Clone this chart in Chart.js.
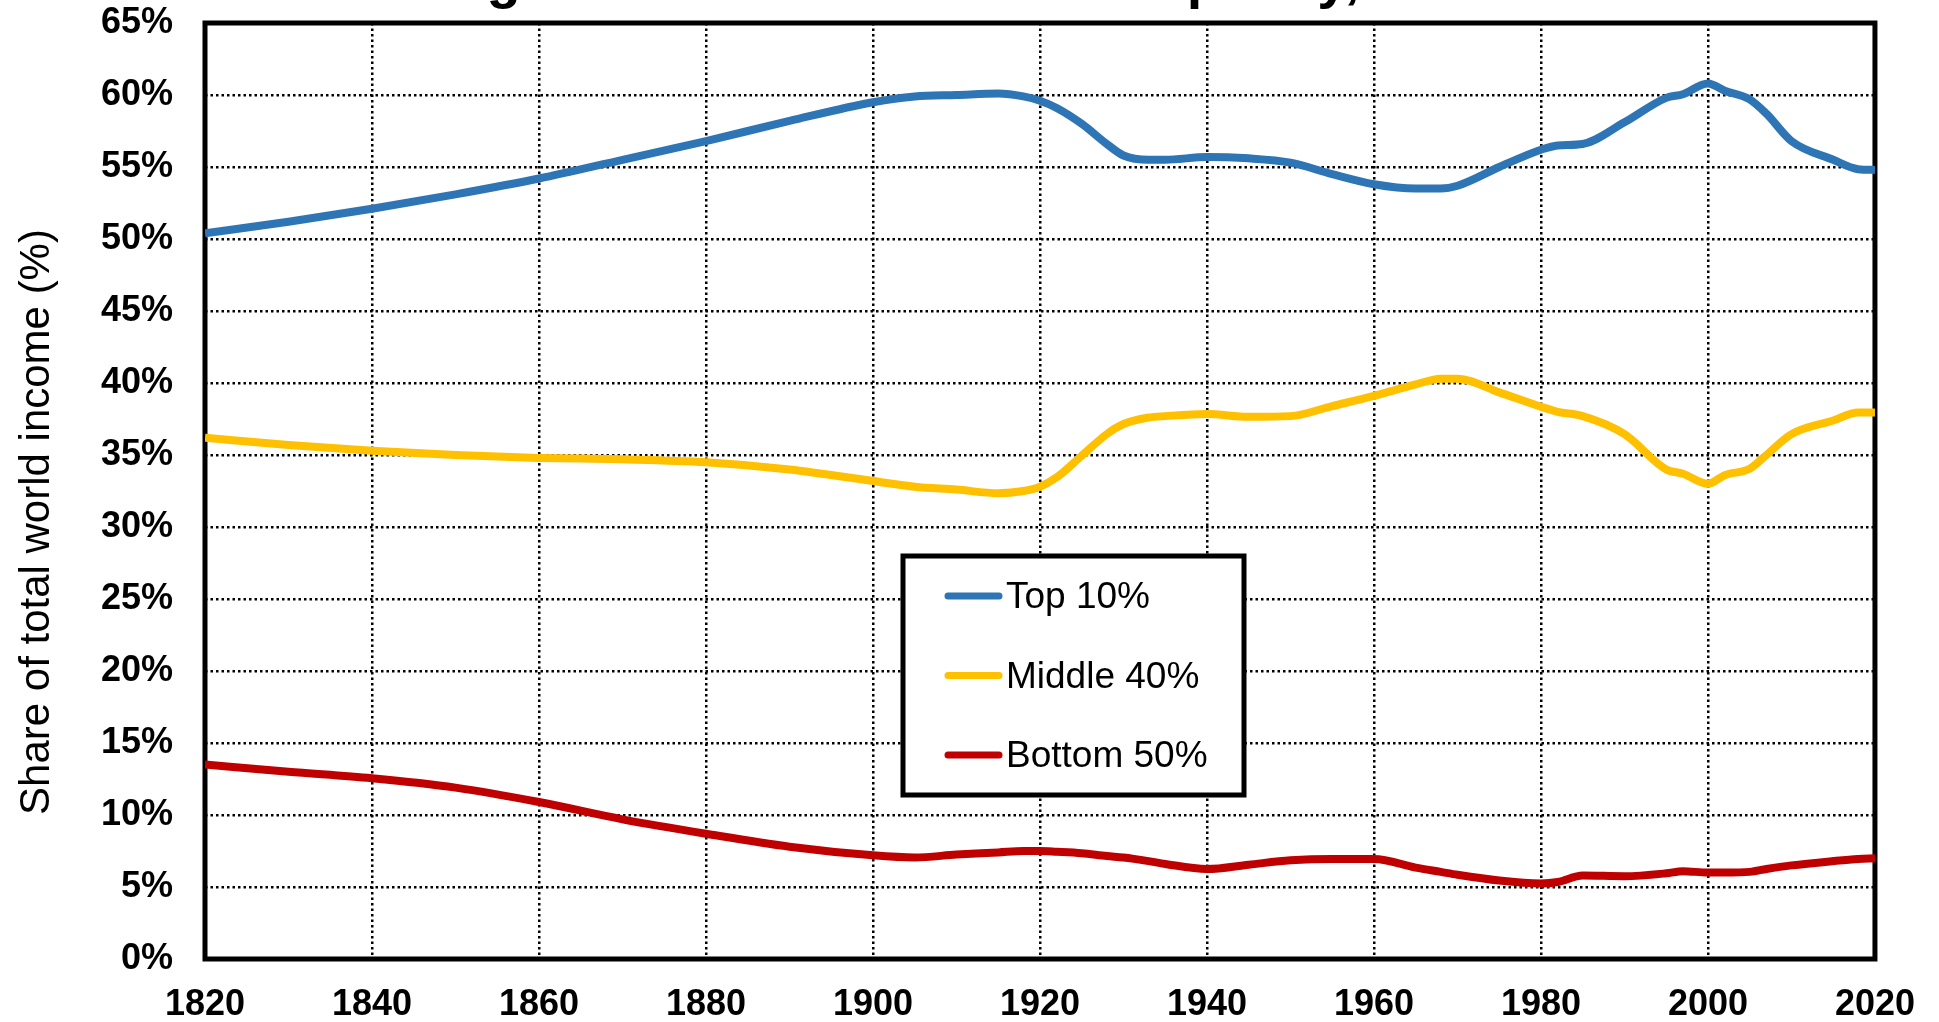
<!DOCTYPE html>
<html>
<head>
<meta charset="utf-8">
<script src="https://cdn.jsdelivr.net/npm/chart.js@4.4.1/dist/chart.umd.min.js"></script>
<style>
  html, body { margin: 0; padding: 0; background: #fff; overflow: hidden; }
  #chart { display: block; }
</style>
</head>
<body>
<canvas id="chart" width="1939" height="1022"></canvas>
<script>
const chartTitle = "Figure 1. Global income inequality, 1820-2020";
const yTitle = "Share of total world income (%)";
const seriesNames = ["Top 10%", "Middle 40%", "Bottom 50%"];

const years = [1820, 1830, 1840, 1850, 1860, 1870, 1880, 1890, 1900, 1905,
  1910, 1915, 1918, 1920, 1922, 1925, 1928, 1930, 1933, 1935,
  1940, 1945, 1950, 1955, 1960, 1965, 1968, 1970, 1975, 1980,
  1982, 1985, 1990, 1995, 1997, 2000, 2002, 2005, 2007, 2010,
  2015, 2018, 2020];

const top10 = [50.4, 51.2, 52.1, 53.1, 54.2, 55.5, 56.8, 58.2, 59.5, 59.9,
  60.0, 60.1, 59.9, 59.6, 59.1, 58.0, 56.6, 55.8, 55.5, 55.5,
  55.7, 55.6, 55.3, 54.5, 53.8, 53.5, 53.5, 53.7, 55.0, 56.2,
  56.5, 56.6, 58.1, 59.8, 60.05, 60.8, 60.3, 59.7, 58.7, 56.8,
  55.5, 54.85, 54.8];

const middle40 = [36.2, 35.7, 35.3, 35.0, 34.8, 34.7, 34.5, 34.0, 33.2, 32.8,
  32.6, 32.35, 32.5, 32.8, 33.45, 34.95, 36.45, 37.15, 37.6, 37.7,
  37.85, 37.65, 37.7, 38.4, 39.1, 39.9, 40.3, 40.3, 39.35, 38.35,
  38.0, 37.7, 36.45, 34.0, 33.7, 33.0, 33.6, 34.05, 35.0, 36.45,
  37.4, 37.95, 37.95];

const bottom50 = [13.5, 13.0, 12.55, 11.9, 10.9, 9.7, 8.7, 7.8, 7.2, 7.05,
  7.25, 7.4, 7.5, 7.5, 7.45, 7.35, 7.15, 7.05, 6.8, 6.6,
  6.25, 6.55, 6.85, 6.95, 6.95, 6.35, 6.05, 5.85, 5.45, 5.25,
  5.35, 5.8, 5.75, 5.95, 6.1, 6.0, 6.0, 6.05, 6.25, 6.5,
  6.8, 6.95, 7.0];

const colors = ["#2E75B6", "#FFC000", "#C00000"];
const FONT = '"Liberation Sans", Arial, Helvetica, sans-serif';

function points(vals) {
  return years.map((yr, i) => ({ x: yr, y: vals[i] }));
}

// frame round the plot area, under the lines
const frame = {
  id: "frame",
  beforeDatasetsDraw(chart) {
    const { ctx, chartArea: a } = chart;
    ctx.save();
    ctx.strokeStyle = "#000";
    ctx.lineWidth = 5;
    ctx.strokeRect(a.left, a.top, a.right - a.left, a.bottom - a.top);
    ctx.restore();
  }
};

// title (mostly above the page edge) + rotated y title + boxed legend
const extras = {
  id: "extras",
  afterDraw(chart) {
    const { ctx, chartArea: a } = chart;
    ctx.save();
    ctx.fillStyle = "#000";
    ctx.font = "bold 56px " + FONT;
    ctx.textAlign = "center";
    ctx.textBaseline = "alphabetic";
    ctx.fillText(chartTitle, (a.left + a.right) / 2, -3);

    ctx.save();
    ctx.translate(49, a.top + 499);
    ctx.rotate(-Math.PI / 2);
    ctx.font = "42px " + FONT;
    ctx.fillText(yTitle, 0, 0);
    ctx.restore();

    const x = a.left + 698, y = a.top + 533, w = 341, h = 239;
    ctx.fillStyle = "#fff";
    ctx.fillRect(x, y, w, h);
    ctx.strokeStyle = "#000";
    ctx.lineWidth = 5;
    ctx.strokeRect(x, y, w, h);
    ctx.font = "37px " + FONT;
    ctx.textAlign = "left";
    chart.data.datasets.forEach((ds, i) => {
      const cy = y + 40 + i * 79.5;
      ctx.strokeStyle = ds.borderColor;
      ctx.lineWidth = 7;
      ctx.lineCap = "round";
      ctx.beginPath();
      ctx.moveTo(x + 45, cy);
      ctx.lineTo(x + 96, cy);
      ctx.stroke();
      ctx.fillStyle = "#000";
      ctx.fillText(ds.label, x + 103, cy + 12);
    });
    ctx.restore();
  }
};

new Chart(document.getElementById("chart"), {
  type: "line",
  data: {
    datasets: [
      { label: seriesNames[0], data: points(top10), borderColor: colors[0] },
      { label: seriesNames[1], data: points(middle40), borderColor: colors[1] },
      { label: seriesNames[2], data: points(bottom50), borderColor: colors[2] }
    ]
  },
  options: {
    responsive: false,
    animation: false,
    devicePixelRatio: 1,
    layout: { padding: { top: 23, right: 61, bottom: 0, left: 0 } },
    elements: {
      point: { radius: 0 },
      line: { borderWidth: 8, cubicInterpolationMode: "monotone", fill: false }
    },
    plugins: {
      legend: { display: false },
      title: { display: false },
      tooltip: { enabled: false }
    },
    scales: {
      x: {
        type: "linear",
        min: 1820,
        max: 2020,
        afterFit: s => { s.height = 63; },
        ticks: {
          stepSize: 20,
          padding: 24,
          color: "#000",
          font: { family: FONT, size: 36, weight: "bold" },
          callback: v => String(v),
          maxRotation: 0
        },
        grid: { color: "#000", lineWidth: 2.5, drawTicks: false },
        border: { display: false, dash: [2.5, 3] }
      },
      y: {
        min: 0,
        max: 65,
        afterFit: s => { s.width = 205; s.paddingTop = 0; s.paddingBottom = 0; },
        ticks: {
          stepSize: 5,
          padding: 32,
          color: "#000",
          font: { family: FONT, size: 36, weight: "bold" },
          callback: v => v + "%"
        },
        grid: { color: "#000", lineWidth: 2.5, drawTicks: false },
        border: { display: false, dash: [2.5, 3] }
      }
    }
  },
  plugins: [frame, extras]
});
</script>
</body>
</html>
